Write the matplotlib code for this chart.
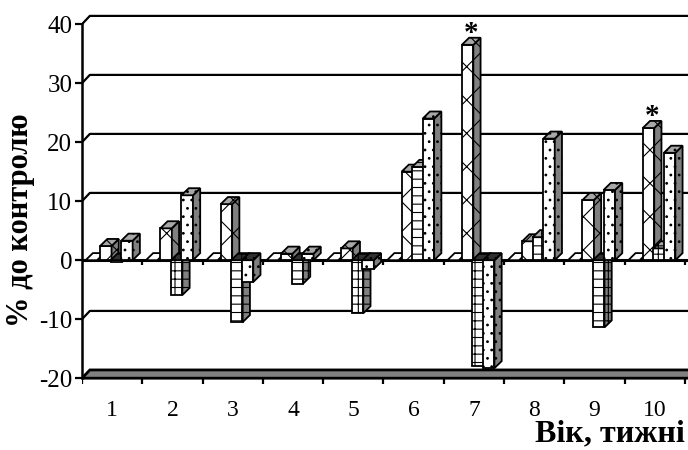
import matplotlib.pyplot as plt
from matplotlib.patches import Polygon

plt.rcParams['font.family'] = ['Liberation Serif', 'DejaVu Serif']
plt.rcParams['hatch.linewidth'] = 0.8
plt.rcParams['axes.unicode_minus'] = False

weeks = ['1', '2', '3', '4', '5', '6', '7', '8', '9', '10']
control = [0, 0, 0, 0, 0, 0, 0, 0, 0, 0]
group_a = [2.4, 5.4, 9.5, 1.1, 2.0, 15.0, 36.5, 3.2, 10.2, 22.4]
group_b = [-0.3, -5.9, -10.5, -4.0, -9.0, 15.8, -18.0, 3.9, -11.4, 2.0]
group_c = [3.3, 11.0, -3.7, 1.1, -1.5, 24.0, -18.3, 20.6, 11.9, 18.2]
stars_a = [7, 10]   # weeks with significant change in group_a

series = [control, group_a, group_b, group_c]
hatches = [None, 'x', '+-', '..']
offsets = [0.06, 0.30, 0.475, 0.65]   # left edge of each bar inside a week slot

bw = 0.19            # bar width
ddx, ddy = 0.12, 1.2  # bar depth (oblique)
wdx, wdy = 0.13, 1.4  # wall depth
xmin, xmax = 0.5, 10.55
ymin, ymax = -22.0, 42.4

fig = plt.figure(figsize=(6.88, 4.5), dpi=100)
ax = fig.add_axes([82 / 688, 60 / 450, 606 / 688, 380 / 450])
ax.set_xlim(xmin, xmax)
ax.set_ylim(ymin, ymax)

# back wall gridlines
for g in [-10, 10, 20, 30, 40]:
    ax.plot([xmin, xmin + wdx, xmax + 1], [g, g + wdy, g + wdy],
            color='black', lw=1.6, zorder=1)

# floor at the bottom
floor = Polygon([(xmin, -20), (xmax + 1, -20), (xmax + 1 + wdx, -20 + wdy),
                 (xmin + wdx, -20 + wdy)], closed=True,
                facecolor='#808080', edgecolor='black', lw=2, zorder=1)
ax.add_patch(floor)

# zero line and category ticks
ax.plot([xmin, xmax + 1], [0, 0], color='black', lw=2.2, zorder=2)
bounds = [i + 0.5 for i in range(len(weeks) + 1)]
ax.vlines(bounds, -0.9, 0, color='black', lw=1.6, zorder=2)
ax.vlines(bounds, -21.0, -20, color='black', lw=1.6, zorder=2)

for k, vals in enumerate(series):
    lefts = [i + 1 - 0.5 + offsets[k] for i in range(len(vals))]
    z = 3 + k
    ax.bar(lefts, vals, width=bw, align='edge', color='white',
           edgecolor='black', hatch=hatches[k], lw=1.3, zorder=z)
    for x0, v in zip(lefts, vals):
        top = max(v, 0)
        if v != 0:
            side = Polygon([(x0 + bw, 0), (x0 + bw + ddx, ddy),
                            (x0 + bw + ddx, v + ddy), (x0 + bw, v)],
                           closed=True, facecolor='#808080', edgecolor='black',
                           hatch=hatches[k], lw=1.3, zorder=z)
            ax.add_patch(side)
        if v > 0:
            tc = '#a8a8a8'
        elif v < 0:
            tc = '#303030'
        else:
            tc = 'white'
        topf = Polygon([(x0, top), (x0 + bw, top), (x0 + bw + ddx, top + ddy),
                        (x0 + ddx, top + ddy)], closed=True, facecolor=tc,
                       edgecolor='black', hatch=hatches[k], lw=1.3, zorder=z)
        ax.add_patch(topf)

for wk in stars_a:
    v = group_a[wk - 1]
    xc = wk - 0.5 + offsets[1] + bw / 2 + ddx / 2
    ax.text(xc, v + ddy - 0.6, '*', ha='center', va='baseline',
            fontsize=21, fontweight='bold', zorder=10)

for s in ['top', 'right', 'bottom']:
    ax.spines[s].set_visible(False)
ax.spines['left'].set_bounds(-20, 40)
ax.spines['left'].set_linewidth(1.8)
ax.set_yticks(range(-20, 41, 10))
ax.tick_params(axis='y', direction='out', length=5, width=1.6, labelsize=18, pad=2)
ax.set_xticks(range(1, len(weeks) + 1), weeks)
ax.tick_params(axis='x', length=0, labelsize=17, pad=7)

fig.text(21 / 688, 1 - 220 / 450, '% до контролю', rotation=90, ha='center',
         va='center', fontsize=22, fontweight='bold')
fig.text(685 / 688, 1 - 434 / 450, 'Вік, тижні', ha='right', va='center',
         fontsize=23, fontweight='bold')

fig.savefig('out.png', dpi=100)
